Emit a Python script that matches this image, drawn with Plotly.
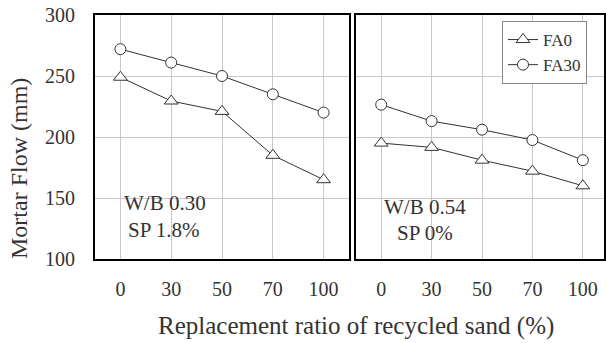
import plotly.graph_objects as go

W, H = 606, 343
categories = ["0", "30", "50", "70", "100"]
left_fa0 = [249, 229.5, 221, 185, 165]
left_fa30 = [272, 261, 250, 235, 220]
right_fa0 = [195, 191.5, 181, 172, 160]
right_fa30 = [226.5, 213, 206, 197.5, 181]
y_ticks = [100, 150, 200, 250, 300]
label_left = ["W/B 0.30", "SP 1.8%"]
label_right = ["W/B 0.54", "SP 0%"]

FONT = "Liberation Serif"
TXT = "#333333"
LINE = "#333333"

def px(x):
    return x / W

def py(y):
    return 1 - y / H

fig = go.Figure()

def add(xa, ya, yvals, name, symbol, size, show):
    fig.add_trace(go.Scatter(
        x=list(range(len(categories))), y=yvals, xaxis=xa, yaxis=ya, name=name,
        mode="lines+markers", showlegend=show,
        line=dict(color=LINE, width=1),
        marker=dict(symbol=symbol, size=size, color="white",
                    line=dict(color=LINE, width=1)),
    ))

add("x", "y", left_fa0, "FA0", "triangle-up", 12, False)
add("x", "y", left_fa30, "FA30", "circle", 11, False)
add("x2", "y2", right_fa0, "FA0", "triangle-up", 12, True)
add("x2", "y2", right_fa30, "FA30", "circle", 11, True)

xcommon = dict(
    range=[-0.5, 4.5], tickmode="array", tickvals=list(range(len(categories))),
    ticktext=categories, showgrid=True, gridcolor="#c8c8c8", gridwidth=1,
    showline=True, linecolor="black", linewidth=2, mirror=True, ticks="",
    zeroline=False, ticklabelstandoff=11, automargin=False,
    tickfont=dict(family=FONT, size=20, color=TXT),
)
ycommon = dict(
    range=[100, 300], tickmode="array", tickvals=y_ticks,
    showgrid=True, gridcolor="#c8c8c8", gridwidth=1,
    showline=True, linecolor="black", linewidth=2, mirror=True, ticks="",
    zeroline=False, automargin=False, tickfont=dict(family=FONT, size=20, color=TXT),
)

y_dom = [py(259), py(15)]
fig.update_layout(
    width=W, height=H, margin=dict(l=0, r=0, t=0, b=0, pad=0, autoexpand=False),
    autosize=False,
    paper_bgcolor="white", plot_bgcolor="white",
    xaxis=dict(domain=[px(95), px(349)], anchor="y", **xcommon),
    xaxis2=dict(domain=[px(356), px(604)], anchor="y2", **{**xcommon, "range": [-0.5, 4.42]}),
    yaxis=dict(domain=y_dom, anchor="x", ticklabelstandoff=14, **ycommon),
    yaxis2=dict(domain=y_dom, anchor="x2", showticklabels=False, **ycommon),
    legend=dict(x=px(502), y=py(21), xanchor="left", yanchor="top",
                bgcolor="white", bordercolor="#888888", borderwidth=1,
                font=dict(family=FONT, size=17, color=TXT),
                tracegroupgap=0, itemwidth=30),
)

# white boxes behind text labels
for (x0, x1) in [(102, 227), (362, 487)]:
    fig.add_shape(type="rect", xref="paper", yref="paper",
                  x0=px(x0), x1=px(x1), y0=py(248), y1=py(184),
                  fillcolor="white", line=dict(width=0), layer="between")

def label(text, x, y):
    fig.add_annotation(text=text, xref="paper", yref="paper", x=px(x), y=py(y),
                       xanchor="center", yanchor="middle", showarrow=False,
                       font=dict(family=FONT, size=21, color=TXT))

label(label_left[0], 165, 203)
label(label_left[1], 164, 230)
label(label_right[0], 425, 207)
label(label_right[1], 425, 233)

fig.add_annotation(text="Replacement ratio of recycled sand (%)", xref="paper", yref="paper",
                   x=px(356), y=py(326), xanchor="center", yanchor="middle", showarrow=False,
                   font=dict(family=FONT, size=25, color=TXT))
fig.add_annotation(text="Mortar Flow (mm)", xref="paper", yref="paper",
                   x=px(19), y=py(169), xanchor="center", yanchor="middle", showarrow=False,
                   textangle=-90, font=dict(family=FONT, size=24, color=TXT))

fig.write_html("out.html")
